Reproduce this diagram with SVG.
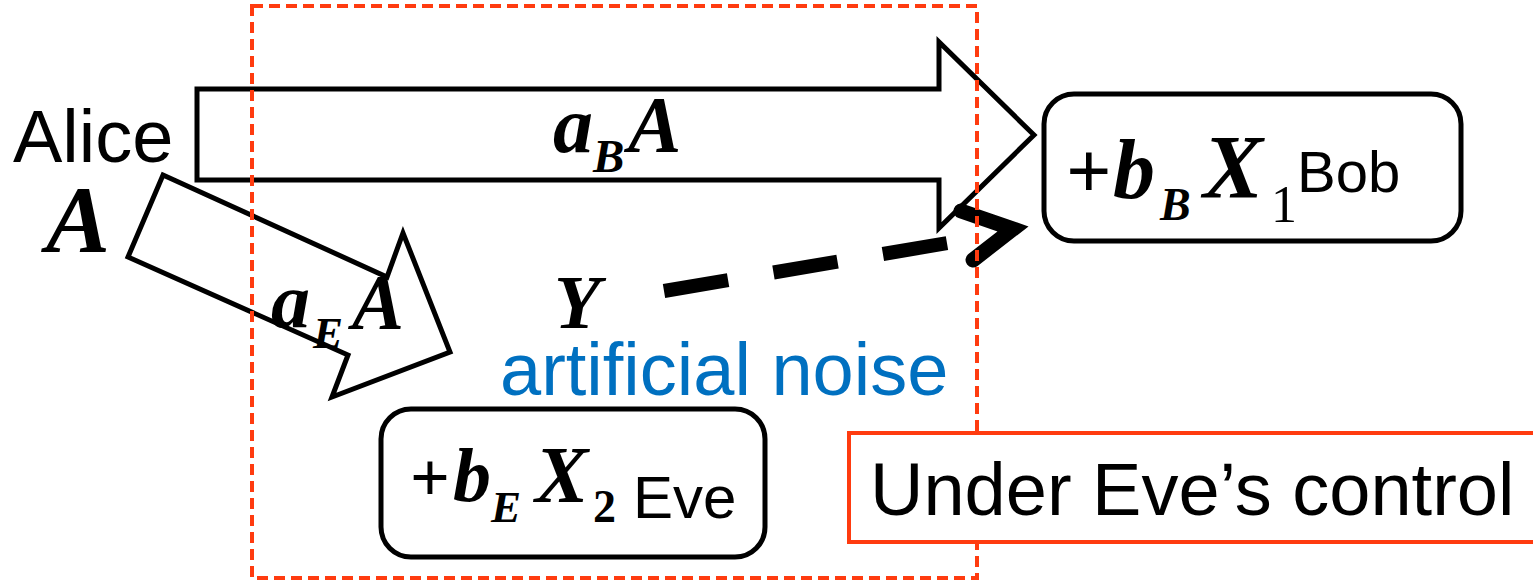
<svg xmlns="http://www.w3.org/2000/svg" width="1533" height="580" viewBox="0 0 1533 580">
<style>
.sans{font-family:"Liberation Sans",Arial,sans-serif;fill:#000}
.math{font-family:"Liberation Serif","Times New Roman",serif;font-weight:bold;font-style:italic;fill:#000}
.rm{font-family:"Liberation Serif","Times New Roman",serif;fill:#000}
.arrow{fill:#fff;stroke:#000;stroke-width:5;stroke-linejoin:miter}
.box{fill:#fff;stroke:#000;stroke-width:5}
</style>
<rect width="1533" height="580" fill="#fff"/>
<g id="connectors">
  <polygon class="arrow" points="197,89 939,89 939,42 1034,135 939,228 939,180 197,180"/>
  <polygon class="arrow" points="163,175 387,277 403,233 450,352 332,397 348,355 128,257"/>
  <path d="M664,291 L948,243" fill="none" stroke="#000" stroke-width="14" stroke-dasharray="65 46"/>
  <polyline points="961,211 1013,229 973,260" fill="none" stroke="#000" stroke-width="15" stroke-linejoin="miter" stroke-linecap="round"/>
</g>
<g id="labels">
  <text class="math" x="553" y="152" font-size="80">a</text>
  <text class="math" x="593" y="172" font-size="47">B</text>
  <text class="math" x="628" y="152" font-size="80">A</text>
  <text class="math" x="271" y="327" font-size="78">a</text>
  <text class="math" x="313" y="348" font-size="45">E</text>
  <text class="math" x="352" y="328" font-size="78">A</text>
  <text class="math" x="554" y="328" font-size="76">Y</text>
  <text class="sans" x="500" y="395" font-size="74" style="fill:#0070C0">artificial noise</text>
</g>
<g id="alice">
  <text class="sans" x="13" y="162" font-size="74">Alice</text>
  <text class="math" x="46" y="252" font-size="96">A</text>
</g>
<g id="bob">
  <rect class="box" x="1044" y="94" width="417" height="147" rx="30"/>
  <text class="rm" x="1066" y="198" font-size="80" font-weight="bold">+</text>
  <text class="math" x="1113" y="198" font-size="84">b</text>
  <text class="math" x="1160" y="220" font-size="46">B</text>
  <text class="math" x="1203" y="198" font-size="90">X</text>
  <text class="rm" x="1271" y="222" font-size="52">1</text>
  <text class="sans" x="1297" y="192" font-size="58">Bob</text>
</g>
<g id="eve">
  <rect class="box" x="381" y="409" width="384" height="148" rx="30"/>
  <text class="rm" x="410" y="501" font-size="70" font-weight="bold">+</text>
  <text class="math" x="453" y="501" font-size="76">b</text>
  <text class="math" x="491" y="522" font-size="45">E</text>
  <text class="math" x="535" y="502" font-size="80">X</text>
  <text class="rm" x="593" y="522" font-size="46" font-weight="bold">2</text>
  <text class="sans" x="633" y="518" font-size="60">Eve</text>
</g>
<g id="eve-region">
  <rect x="252" y="6" width="725" height="572" fill="none" stroke="#FF3B0F" stroke-width="4" stroke-dasharray="11 6"/>
</g>
<g id="under-control">
  <rect x="849" y="433" width="700" height="109" fill="#fff" stroke="#FF3B0F" stroke-width="4"/>
  <text class="sans" x="870" y="515" font-size="74">Under Eve’s control</text>
</g>
</svg>
